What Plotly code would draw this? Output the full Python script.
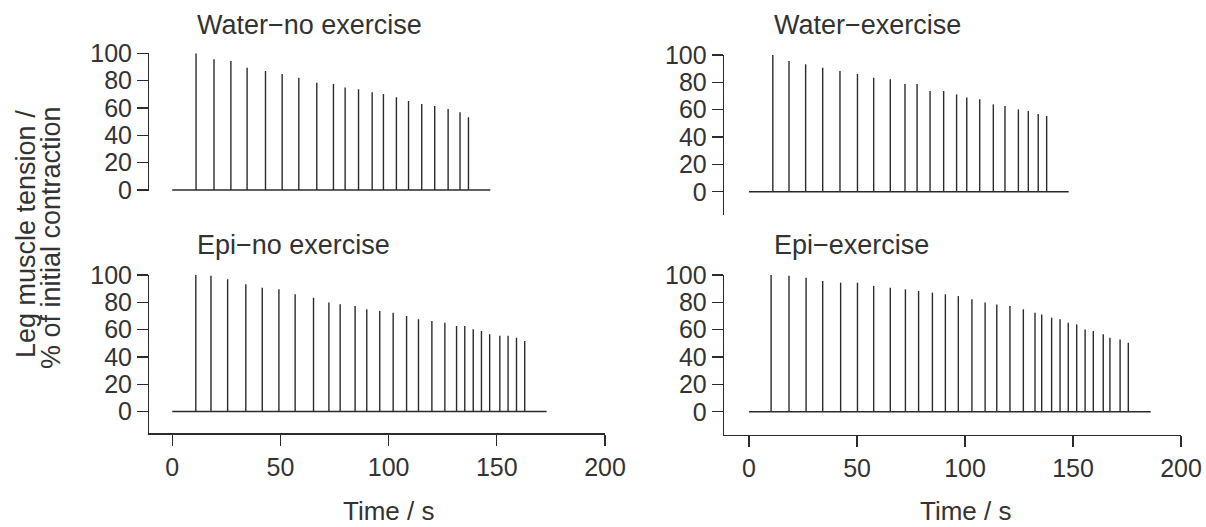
import plotly.graph_objects as go

# ---- data ----
panel_titles = ["Water\u2212no exercise", "Water\u2212exercise", "Epi\u2212no exercise", "Epi\u2212exercise"]

wn_time = [11.0, 19.3, 27.1, 34.6, 43.1, 50.8, 58.5, 66.8, 74.5, 79.9, 86.1, 92.4, 97.6, 103.6,
           109.2, 115.3, 121.3, 127.5, 133.0, 136.9]
wn_tension = [100, 95.6, 94.4, 89.5, 87.1, 84.9, 82.2, 78.5, 77.6, 74.9, 73.7, 71.5, 70.2, 67.8,
              65.1, 62.9, 61.5, 59.3, 56.8, 53.2]

we_time = [11.0, 18.5, 26.2, 34.1, 42.1, 50.2, 57.7, 65.4, 72.2, 77.8, 83.8, 90.1, 96.1, 100.8,
           106.8, 113.1, 118.5, 124.7, 129.3, 133.9, 137.8]
we_tension = [100, 95.6, 93.2, 90.7, 88.3, 86.1, 83.4, 82.2, 78.8, 78.8, 73.7, 73.7, 71.2, 69.0,
              67.6, 63.9, 62.7, 60.2, 59.0, 56.8, 55.4]

en_time = [10.9, 17.9, 25.6, 34.0, 41.6, 49.3, 56.8, 65.3, 72.4, 77.6, 84.5, 89.9, 95.9, 102.1,
           108.3, 113.8, 120.0, 126.0, 131.4, 135.2, 139.1, 142.9, 146.7, 151.4, 155.2, 159.1, 162.9]
en_tension = [100, 99.5, 96.8, 93.2, 90.7, 89.5, 85.9, 83.4, 79.8, 78.5, 77.3, 74.9, 73.7, 72.4,
              70.0, 67.6, 66.3, 65.1, 62.7, 62.7, 60.2, 59.0, 56.6, 55.4, 55.4, 54.1, 51.7]

ee_time = [10.2, 18.5, 26.4, 34.1, 42.4, 50.2, 57.7, 65.4, 72.4, 78.5, 84.9, 90.9, 96.9, 103.2,
           109.3, 114.7, 120.8, 127.0, 132.4, 135.5, 140.1, 144.0, 147.8, 151.7, 155.6, 159.4,
           164.0, 167.1, 171.8, 175.6]
ee_tension = [100, 99.5, 98.0, 95.6, 94.4, 94.4, 92.0, 90.7, 89.5, 88.3, 87.1, 85.9, 84.6, 82.2,
              79.8, 78.5, 77.3, 74.9, 72.4, 71.2, 68.8, 67.6, 65.1, 63.9, 60.2, 59.0, 56.6, 54.1,
              52.9, 50.5]

record_end = [147, 148, 173, 186]   # end of baseline trace (s)

x_ticks = [0, 50, 100, 150, 200]
y_ticks = [0, 20, 40, 60, 80, 100]

y_title_lines = ["Leg muscle tension /", "% of initial contraction"]
x_title = "Time / s"

# ---- styling / layout ----
W, H = 1206, 527
FONT = "Liberation Sans, Arial, Helvetica, sans-serif"
INK = "#2b2b2b"
TXT = "#333333"

def px_x(p):
    return p / W

def px_y(p):
    return 1 - p / H

panels = [
    dict(t=wn_time, v=wn_tension, end=record_end[0], xd=[px_x(149.3), px_x(605)], yd=[px_y(191.4), px_y(53.3)],
         xr=[-10.6, 200], yr=[-1, 100], showx=False),
    dict(t=we_time, v=we_tension, end=record_end[1], xd=[px_x(724), px_x(1181)], yd=[px_y(215), px_y(55)],
         xr=[-11.6, 200], yr=[-17, 100], showx=False),
    dict(t=en_time, v=en_tension, end=record_end[2], xd=[px_x(149.3), px_x(605)], yd=[px_y(433.3), px_y(275)],
         xr=[-10.6, 200], yr=[-16, 100], showx=True),
    dict(t=ee_time, v=ee_tension, end=record_end[3], xd=[px_x(724), px_x(1181)], yd=[px_y(435), px_y(275)],
         xr=[-11.6, 200], yr=[-17, 100], showx=True),
]

fig = go.Figure()
layout = dict(
    template="none",
    width=W, height=H,
    margin=dict(l=0, r=0, t=0, b=0, pad=0),
    paper_bgcolor="white", plot_bgcolor="white",
    showlegend=False,
    hovermode=False,
    font=dict(family=FONT, size=25, color=TXT),
)

annotations = []
for i, p in enumerate(panels):
    n = i + 1
    xa = "x" if n == 1 else f"x{n}"
    ya = "y" if n == 1 else f"y{n}"
    # baseline trace
    fig.add_trace(go.Scatter(x=[0, p["end"]], y=[0, 0], mode="lines",
                             line=dict(color=INK, width=1.4), xaxis=xa, yaxis=ya))
    # contraction spikes
    xs, ys = [], []
    for t, v in zip(p["t"], p["v"]):
        xs += [t, t, None]
        ys += [0, v, None]
    fig.add_trace(go.Scatter(x=xs, y=ys, mode="lines",
                             line=dict(color=INK, width=1.4), xaxis=xa, yaxis=ya))

    xkey = "xaxis" if n == 1 else f"xaxis{n}"
    ykey = "yaxis" if n == 1 else f"yaxis{n}"
    layout[xkey] = dict(
        domain=p["xd"], range=p["xr"], anchor=ya, automargin=False,
        showgrid=False, zeroline=False, fixedrange=True,
        visible=p["showx"],
        showline=p["showx"], linecolor=INK, linewidth=1.3,
        ticks="outside" if p["showx"] else "", ticklen=11, tickwidth=1.3, tickcolor=INK,
        tickvals=x_ticks, ticktext=[str(v) for v in x_ticks],
        tickfont=dict(family=FONT, size=25, color=TXT),
    )
    layout[ykey] = dict(
        domain=p["yd"], range=p["yr"], anchor=xa, automargin=False,
        showgrid=False, zeroline=False, fixedrange=True,
        showline=True, linecolor=INK, linewidth=1.3,
        ticks="outside", ticklen=11, tickwidth=1.3, tickcolor=INK,
        tickvals=y_ticks, ticktext=[str(v) for v in y_ticks],
        tickfont=dict(family=FONT, size=25, color=TXT),
    )

# panel titles
title_pos = [(195, 25), (772, 25), (195, 245), (772, 245)]
for txt, (x, y) in zip(panel_titles, title_pos):
    annotations.append(dict(text=txt, xref="paper", yref="paper", x=px_x(x), y=px_y(y),
                            xanchor="left", yanchor="middle", showarrow=False,
                            font=dict(family=FONT, size=27, color=TXT)))

# axis titles
for cx in (388.8, 965):
    annotations.append(dict(text=x_title, xref="paper", yref="paper", x=px_x(cx), y=0,
                            xanchor="center", yanchor="bottom", showarrow=False, borderpad=0,
                            font=dict(family=FONT, size=26, color=TXT)))
for line, (cx, cy) in zip(y_title_lines, [(26, 234), (51, 238)]):
    annotations.append(dict(text=line, xref="paper", yref="paper", x=px_x(cx), y=px_y(cy),
                            xanchor="center", yanchor="middle", textangle=-90, showarrow=False,
                            font=dict(family=FONT, size=27, color=TXT)))

layout["annotations"] = annotations
fig.update_layout(**layout)
fig.write_html("out.html", config={"displayModeBar": False, "staticPlot": True},
               post_script="document.body.style.margin='0';document.body.style.padding='0';")
